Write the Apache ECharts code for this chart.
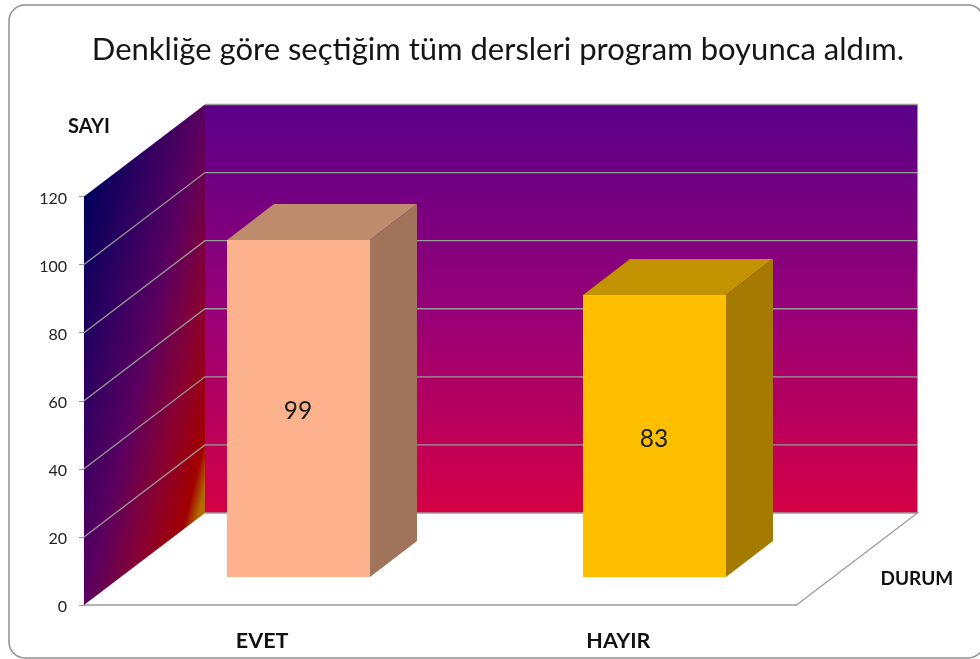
<!DOCTYPE html>
<html>
<head>
<meta charset="utf-8">
<style>html,body{margin:0;padding:0;background:#fff}#c{width:980px;height:659px}</style>
<script src="https://cdn.jsdelivr.net/npm/echarts@6/dist/echarts.min.js"></script>
</head>
<body>
<div id="c"></div>
<script>
const categories = ['EVET', 'HAYIR'];
const values = [99, 83];
const yTicks = [0, 20, 40, 60, 80, 100, 120];
const frontColors = ['#fcb38d', '#fdbf00'];
const topColors = ['#be8b6d', '#c29200'];
const sideColors = ['#9f745a', '#a47b00'];
const titleText = 'Denkliğe göre seçtiğim tüm dersleri program boyunca aldım.';

const FONT = 'Lato, "Open Sans", sans-serif';
const WALL_DX = 121, WALL_DY = -92;
const BAR_RATIO = 0.4, BAR_DEPTH = 0.39, BAR_INSET = 0.30;
const GRID_LINE = '#9a9a9a';

function renderWalls(params, api) {
  const band = api.size([1, 0])[0];
  const L = api.coord([0, 0])[0] - band / 2;
  const R = api.coord([categories.length - 1, 0])[0] + band / 2;
  const Y = v => api.coord([0, v])[1];
  const y0 = Y(0), yMax = Y(yTicks[yTicks.length - 1]);
  const children = [];
  children.push({
    type: 'polygon',
    shape: { points: [[L + WALL_DX, yMax + WALL_DY], [R + WALL_DX, yMax + WALL_DY], [R + WALL_DX, y0 + WALL_DY], [L + WALL_DX, y0 + WALL_DY]] },
    style: { fill: { type: 'linear', x: 0, y: 0, x2: 0, y2: 1, colorStops: [
      { offset: 0, color: '#5a0088' }, { offset: 0.5, color: '#970078' }, { offset: 1, color: '#d50045' }] } }
  });
  children.push({
    type: 'polygon',
    shape: { points: [[L, yMax], [L + WALL_DX, yMax + WALL_DY], [L + WALL_DX, y0 + WALL_DY], [L, y0]] },
    style: { fill: { type: 'linear', x: 0, y: 0.1856, x2: 1.537, y2: 0.275, colorStops: [
      { offset: 0, color: '#00005a' }, { offset: 0.23, color: '#2a0060' }, { offset: 0.5, color: '#5a0060' }, { offset: 0.73, color: '#8a0030' }, { offset: 0.91, color: '#a20000' }, { offset: 0.97, color: '#b06a00' }, { offset: 1, color: '#b06a00' }] } }
  });
  yTicks.forEach(v => {
    if (v === 0) return;
    const y = Y(v);
    const isTop = v === yTicks[yTicks.length - 1];
    const pts = isTop
      ? [[L + WALL_DX, y + WALL_DY], [R + WALL_DX, y + WALL_DY]]
      : [[L, y], [L + WALL_DX, y + WALL_DY], [R + WALL_DX, y + WALL_DY]];
    children.push({
      type: 'polyline',
      shape: { points: pts },
      style: { fill: 'none', stroke: GRID_LINE, lineWidth: 1.3 }
    });
  });
  children.push({
    type: 'polyline',
    shape: { points: [[L + WALL_DX, y0 + WALL_DY], [R + WALL_DX, y0 + WALL_DY], [R, y0]] },
    style: { fill: 'none', stroke: GRID_LINE, lineWidth: 1.3 }
  });
  return { type: 'group', children };
}

function renderBar(params, api) {
  const i = api.value(0), v = api.value(1);
  const band = api.size([1, 0])[0];
  const w = Math.round(band * BAR_RATIO);
  const base = api.coord([i, 0]), top = api.coord([i, v]);
  const ox = WALL_DX * BAR_INSET, oy = WALL_DY * BAR_INSET;
  const dx = Math.round(WALL_DX * BAR_DEPTH), dy = Math.round(WALL_DY * BAR_DEPTH);
  const l = Math.round(base[0] - w / 2 + ox), r = l + w;
  const b = Math.round(base[1] + oy), t = Math.round(top[1] + oy);
  return {
    type: 'group',
    children: [
      { type: 'polygon', shape: { points: [[l, t], [l + dx, t + dy], [r + dx, t + dy], [r, t]] }, style: { fill: topColors[i] } },
      { type: 'polygon', shape: { points: [[r, t], [r + dx, t + dy], [r + dx, b + dy], [r, b]] }, style: { fill: sideColors[i] } },
      { type: 'rect', shape: { x: l, y: t, width: w, height: b - t }, style: { fill: frontColors[i] } },
      { type: 'text', style: { text: String(v), x: (l + r) / 2 - 0.5, y: (t + b) / 2 + 3, align: 'center', verticalAlign: 'middle', fill: '#1a1a1a', font: '24.5px ' + FONT } }
    ]
  };
}

const chart = echarts.init(document.getElementById('c'), null, { renderer: 'canvas' });
chart.setOption({
  animation: false,
  backgroundColor: '#fff',
  title: {
    text: titleText, left: 493, top: 29, textAlign: 'center',
    textStyle: { fontFamily: FONT, fontWeight: 'normal', fontSize: 31, color: '#151515' }
  },
  graphic: [{
    type: 'rect', z: -10, silent: true,
    shape: { x: 9, y: 5, width: 975, height: 653, r: 16 },
    style: { fill: '#fff', stroke: '#8e8e8e', lineWidth: 1.5 }
  }],
  grid: { left: 84, right: 183.5, top: 196.5, bottom: 54 },
  xAxis: {
    type: 'category', data: categories,
    name: 'DURUM', nameLocation: 'end', nameGap: 84,
    nameTextStyle: { fontFamily: FONT, fontWeight: 'bold', fontSize: 19, color: '#111', verticalAlign: 'bottom', padding: [0, 0, 17, 0] },
    axisLine: { lineStyle: { color: GRID_LINE, width: 1.5 } },
    axisTick: { length: 10, lineStyle: { color: GRID_LINE, width: 1.2 } },
    axisLabel: { margin: 25, fontFamily: FONT, fontWeight: 'bold', fontSize: 21.5, color: '#111' }
  },
  yAxis: {
    type: 'value', min: 0, max: 120, interval: 20,
    name: 'SAYI', nameLocation: 'end', nameGap: 60,
    nameTextStyle: { fontFamily: FONT, fontWeight: 'bold', fontSize: 20, color: '#111', align: 'right', padding: [0, -26, 0, 0] },
    splitLine: { show: false },
    axisLine: { show: true, lineStyle: { color: GRID_LINE, width: 1.2 } },
    axisTick: { show: true, length: 5, lineStyle: { color: GRID_LINE, width: 1.2 } },
    axisLabel: {
      margin: 17, formatter: '{n|{value}}',
      rich: { n: { fontFamily: FONT, fontSize: 16, color: '#222', padding: [4, 0, 0, 0] } }
    }
  },
  series: [
    { type: 'custom', name: 'walls', z: 1, renderItem: renderWalls, data: [[0, 0]], encode: { x: 0, y: 1 }, silent: true, clip: false },
    { type: 'custom', name: 'DURUM', z: 3, renderItem: renderBar, data: values.map((v, i) => [i, v]), encode: { x: 0, y: 1 }, clip: false }
  ]
});
</script>
</body>
</html>
